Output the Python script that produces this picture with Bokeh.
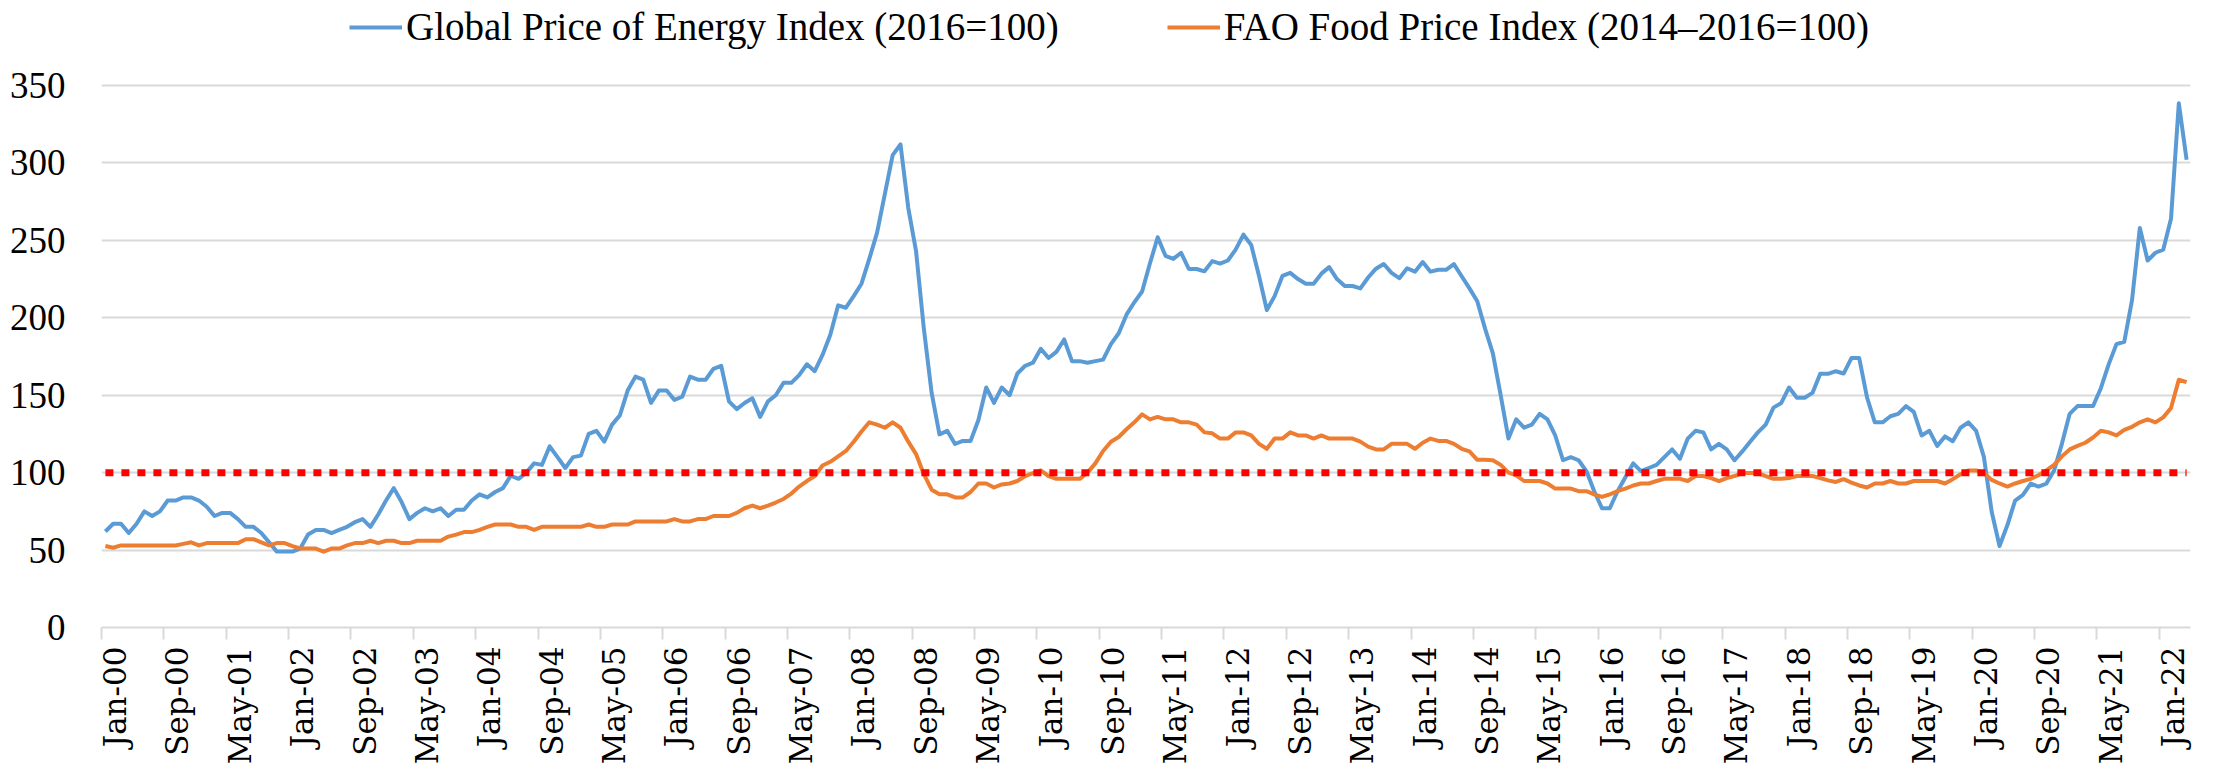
import math
import pandas as pd
from bokeh.plotting import figure
from bokeh.models import Range1d, LinearAxis, FixedTicker, Legend, LegendItem, ColumnDataSource
from bokeh.embed import file_html
from bokeh.resources import INLINE

# ---------------- data ----------------
months = pd.date_range("2000-01-01", periods=268, freq="MS").strftime("%b-%y").tolist()

energy_index = [
    62, 67, 67, 61, 67, 75, 72, 75, 82, 82,
    84, 84, 82, 78, 72, 74, 74, 70, 65, 65,
    61, 55, 49, 49, 49, 51, 60, 63, 63, 61,
    63, 65, 68, 70, 65, 73, 82, 90, 81, 70,
    74, 77, 75, 77, 72, 76, 76, 82, 86, 84,
    87.5, 90, 98, 96, 100, 106, 105, 117, 110, 103,
    110, 111, 125, 127, 120, 131, 137, 153, 162, 160,
    145, 153, 153, 147, 149, 162, 160, 160, 167, 169,
    146, 141, 145, 148, 136, 146, 150, 158, 158, 163,
    170, 165.5, 176, 189, 208, 206.5, 214, 222, 238, 255,
    280, 305, 312, 271, 243, 193, 151.5, 124.7, 127, 118.5,
    120.5, 120.5, 134, 155, 145, 155, 150, 164, 169, 171,
    180, 174, 178, 186, 172, 172, 171, 172, 173, 183,
    190, 202, 210, 217, 235, 252, 240, 238, 242, 231.5,
    231.5, 230, 236.6, 235, 237, 244, 253.7, 247, 227, 205,
    214, 227, 229, 225, 222, 222, 228.5, 232.7, 225, 220.5,
    220.5, 219, 226, 231.7, 234.7, 229, 225.6, 232, 229.8, 236,
    229.8, 231, 231, 234.7, 226.8, 219, 210.7, 193, 177, 150,
    122, 134.4, 129, 131, 138, 134.4, 124, 108, 110, 108,
    101, 88, 77, 77, 88, 97, 106, 101, 103, 105,
    110, 115, 109, 122, 127, 126, 115, 118.6, 115, 108,
    113.7, 120, 126, 131, 142, 145, 155, 148.4, 148.4, 151.5,
    163.8, 163.8, 165.5, 164, 174, 174, 148.6, 132.5, 132.5, 136.4,
    138, 143, 139.3, 124, 127, 117.3, 123.4, 120.3, 129, 132.5,
    127, 110, 74.6, 52.6, 66, 82, 85.6, 92.9, 91, 92.9,
    101.4, 118.6, 138, 143, 143, 143, 154.5, 169.9, 183, 184.5,
    211.4, 258, 237, 242, 244, 264, 338.5, 302,
]

food_index = [
    52.6, 51.5, 53, 53, 53, 53, 53, 53, 53, 53,
    54, 55, 53, 54.5, 54.5, 54.5, 54.5, 54.5, 57, 57,
    55, 53, 54.5, 54.5, 52.6, 51, 51, 51, 49, 51,
    51, 53, 54.5, 54.5, 56, 54.5, 56, 56, 54.5, 54.5,
    56, 56, 56, 56, 58.7, 60, 61.6, 61.6, 63, 65,
    66.5, 66.5, 66.5, 65, 65, 63, 65, 65, 65, 65,
    65, 65, 66.5, 65, 65, 66.5, 66.5, 66.5, 68.5, 68.5,
    68.5, 68.5, 68.5, 70, 68.5, 68.5, 70, 70, 72, 72,
    72, 74, 77, 78.7, 77, 78.7, 80.7, 83, 86.5, 91,
    94.6, 97.8, 104.6, 107, 110.5, 114, 120, 126.6, 132.5, 131,
    129, 132.5, 129, 120, 112, 99, 89, 86, 86, 84,
    84, 87.5, 93, 93, 90.4, 92.4, 93, 94.6, 97.8, 99.7,
    101.4, 97.8, 96, 96, 96, 96, 100, 106, 114, 120,
    123, 128, 132.5, 137.6, 134.4, 136, 134.4, 134.4, 132.5, 132.5,
    131, 126, 125.4, 122, 122, 126, 126, 124, 118.6, 115.4,
    122, 122, 126, 124, 124, 122, 124, 122, 122, 122,
    122, 120, 116.8, 115, 115, 118.6, 118.6, 118.6, 115.4, 119.3,
    122, 120.5, 120.5, 118.6, 115.4, 113.7, 108.3, 108.3, 108, 105,
    100, 98.3, 94.6, 94.6, 94.6, 93, 89.7, 89.7, 89.7, 88,
    88, 86, 84.3, 86, 88, 89.7, 91.7, 93, 93, 94.6,
    96, 96, 96, 94.6, 97.8, 97.8, 96.5, 94.6, 96.5, 97.8,
    99.7, 99.7, 99.7, 97.8, 96, 96, 96.5, 97.8, 97.8, 97.8,
    96.5, 95, 94, 95.8, 93.6, 91.7, 90.4, 93, 93, 94.6,
    93, 93, 94.6, 94.6, 94.6, 94.6, 93, 95.8, 99, 101.4,
    101.4, 99.7, 95.3, 93, 91, 93, 94.6, 96, 98.3, 101.4,
    105, 110.5, 115, 117.3, 119.3, 122.7, 127, 126, 124, 127.6,
    129.6, 132.5, 134.4, 132.5, 135.7, 141.8, 160, 158.4,
]

tick_labels = [
    "Jan-00", "Sep-00", "May-01", "Jan-02", "Sep-02", "May-03", "Jan-04", "Sep-04",
    "May-05", "Jan-06", "Sep-06", "May-07", "Jan-08", "Sep-08", "May-09", "Jan-10",
    "Sep-10", "May-11", "Jan-12", "Sep-12", "May-13", "Jan-14", "Sep-14", "May-15",
    "Jan-16", "Sep-16", "May-17", "Jan-18", "Sep-18", "May-19", "Jan-20", "Sep-20",
    "May-21", "Jan-22",
]
y_ticks = [0, 50, 100, 150, 200, 250, 300, 350]
reference_level = 100

energy_label = "Global Price of Energy Index (2016=100)"
food_label = "FAO Food Price Index (2014\u20132016=100)"

# ---------------- geometry helpers ----------------
n = len(months)
xpos = [i + 0.5 for i in range(n)]          # category centres
boundaries = [months.index(l) for l in tick_labels]   # tick marks at category edges
label_pos = [b + 1.75 for b in boundaries]

src = ColumnDataSource(dict(x=xpos, energy=energy_index, food=food_index, month=months))

GRID = "#d9d9d9"
BLUE = "#5b9bd5"
ORANGE = "#ed7d31"

p = figure(width=2203, height=768, output_backend="svg", toolbar_location=None,
           x_range=Range1d(0, n), y_range=Range1d(0, 350 * 627 / 542),
           x_axis_location=None, y_axis_location="left",
           min_border_left=101, min_border_right=13, min_border_top=0, min_border_bottom=141)
p.outline_line_color = None
p.background_fill_color = "white"
p.border_fill_color = "white"
p.xgrid.visible = False

yt = FixedTicker(ticks=y_ticks)
p.yaxis.ticker = yt
p.ygrid.ticker = yt
p.ygrid.grid_line_color = GRID
p.ygrid.grid_line_width = 2
p.yaxis.axis_line_color = None
p.yaxis.major_tick_line_color = None
p.yaxis.minor_tick_line_color = None
p.yaxis.major_label_standoff = 30
p.yaxis.major_label_text_font = "Liberation Serif"
p.yaxis.major_label_text_font_size = "37px"
p.yaxis.major_label_text_color = "black"

# axis with tick marks at category boundaries (no labels)
tick_axis = LinearAxis(ticker=FixedTicker(ticks=boundaries),
                       axis_line_color=GRID, axis_line_width=2,
                       major_tick_line_color=GRID, major_tick_line_width=2,
                       major_tick_out=12, major_tick_in=0,
                       minor_tick_line_color=None,
                       major_label_text_font_size="1px", major_label_text_alpha=0,
                       major_label_standoff=0)
p.add_layout(tick_axis, "below")

# axis carrying the rotated month labels
label_axis = LinearAxis(ticker=FixedTicker(ticks=label_pos),
                        axis_line_color=None, major_tick_line_color=None,
                        major_tick_out=0, major_tick_in=0, minor_tick_line_color=None,
                        major_label_orientation=math.pi / 2,
                        major_label_overrides={lp: lab for lp, lab in zip(label_pos, tick_labels)},
                        major_label_text_font="DejaVu Serif",
                        major_label_text_font_size="31px",
                        major_label_text_color="black",
                        major_label_standoff=7)
p.add_layout(label_axis, "below")

r_e = p.line("x", "energy", source=src, line_color=BLUE, line_width=4, line_join="round")
r_f = p.line("x", "food", source=src, line_color=ORANGE, line_width=4, line_join="round")
p.line(x=[xpos[0], xpos[-1]], y=[reference_level, reference_level],
       line_color="#ff0000", line_width=7, line_dash="8 8")

legend = Legend(items=[LegendItem(label=energy_label, renderers=[r_e]),
                       LegendItem(label=food_label, renderers=[r_f])],
                orientation="horizontal", location=(248, 578),
                glyph_width=53, glyph_height=20, label_standoff=4, spacing=108,
                padding=0, margin=0, border_line_color=None, background_fill_alpha=0,
                label_text_font="Liberation Serif", label_text_font_size="39px",
                label_text_color="black")
p.add_layout(legend)

open("out.html", "w").write(file_html(p, INLINE))
